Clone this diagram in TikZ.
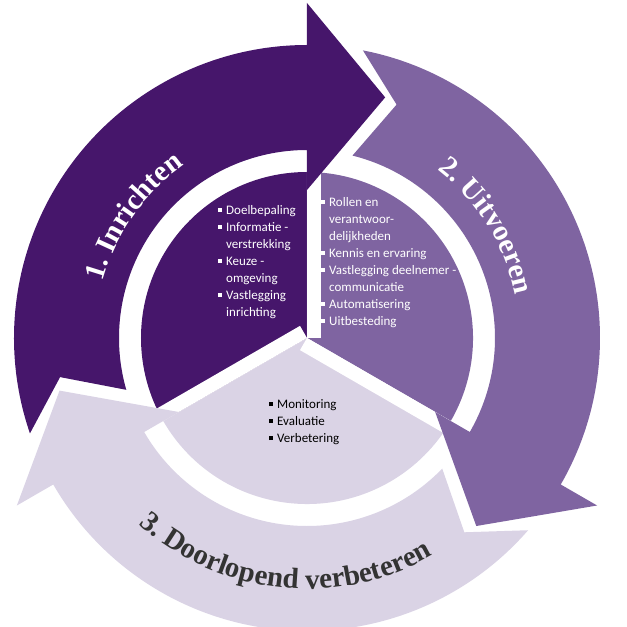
\documentclass[tikz,border=0pt]{standalone}
\usepackage{fontspec}
\setmainfont{Carlito}
\newfontfamily\ringserif{Liberation Serif}
\usetikzlibrary{decorations.text}
\definecolor{darkpurple}{HTML}{46166B}
\definecolor{midpurple}{HTML}{7F64A1}
\definecolor{lightpurple}{HTML}{DAD3E5}
\definecolor{darktext}{HTML}{333333}
\newcommand{\bul}{\rule[2pt]{4pt}{4pt}}
\newcommand{\ringfont}{\ringserif\bfseries\fontsize{29}{32}\selectfont}
% one ring arrow, head base at angle #1
\newcommand{\ringarrow}[2]{%
  \fill[#2] (#1+109:293pt) arc[start angle=#1+109, end angle=#1, radius=293pt]
    -- (#1:335pt) -- (#1-18:253pt) -- (#1:148pt) -- (#1:188pt)
    arc[start angle=#1, end angle=#1+106, radius=188pt]
    -- (#1+99:250pt) -- cycle;}
\tikzset{
  sector/.style={fill=#1},
  gapstrip/.style={fill=white},
  itemlist/.style={anchor=north west, inner sep=0pt, font=\fontsize{13}{17}\selectfont},
  ringlabel/.style={decorate, decoration={text along path, text align=center, text={#1}}}
}
\begin{document}
\begin{tikzpicture}
\useasboundingbox (-307pt,-289pt) rectangle (320pt,338pt);
% inner pie
\fill[sector=darkpurple] (0,0) -- (90:166pt) arc[start angle=90, end angle=210, radius=166pt] -- cycle;
\fill[sector=midpurple] (0,0) -- (-30:166pt) arc[start angle=-30, end angle=90, radius=166pt] -- cycle;
\fill[sector=lightpurple] (0,0) -- (210:166pt) arc[start angle=210, end angle=330, radius=166pt] -- cycle;
\foreach \a in {90,210,330}
  \fill[gapstrip, rotate=\a] (0,0) rectangle (170pt,-14pt);
% outer ring
\ringarrow{90}{darkpurple}
\ringarrow{-30}{midpurple}
\ringarrow{210}{lightpurple}
% ring labels
\path[ringlabel={|\color{white}\ringfont|1. Inrichten}] (200:212pt) arc[start angle=200, end angle=90, radius=212pt];
\path[ringlabel={|\color{white}\ringfont|2. Uitvoeren}] (88:213pt) arc[start angle=88, end angle=-24, radius=213pt];
\path[ringlabel={|\color{darktext}\ringfont|3. Doorlopend verbeteren}] (205:251pt) arc[start angle=205, end angle=323, radius=251pt];
% sector texts
\node[itemlist, text=white] (inrichten) at (-89pt,136pt) {%
  \begin{tabular}{@{}l@{\hspace{4pt}}l@{}}
  \bul & Doelbepaling\\ \bul & Informatie -\\ & verstrekking\\
  \bul & Keuze -\\ & omgeving\\ \bul & Vastlegging\\ & inrichting
  \end{tabular}};
\node[itemlist, text=white] (uitvoeren) at (14pt,144pt) {%
  \begin{tabular}{@{}l@{\hspace{4pt}}l@{}}
  \bul & Rollen en\\ & verantwoor-\\ & delijkheden\\
  \bul & Kennis en ervaring\\ \bul & Vastlegging deelnemer -\\ & communicatie\\
  \bul & Automatisering\\ \bul & Uitbesteding
  \end{tabular}};
\node[itemlist, text=black] (verbeteren) at (-38pt,-58pt) {%
  \begin{tabular}{@{}l@{\hspace{4pt}}l@{}}
  \bul & Monitoring\\ \bul & Evaluatie\\ \bul & Verbetering
  \end{tabular}};
\end{tikzpicture}
\end{document}
